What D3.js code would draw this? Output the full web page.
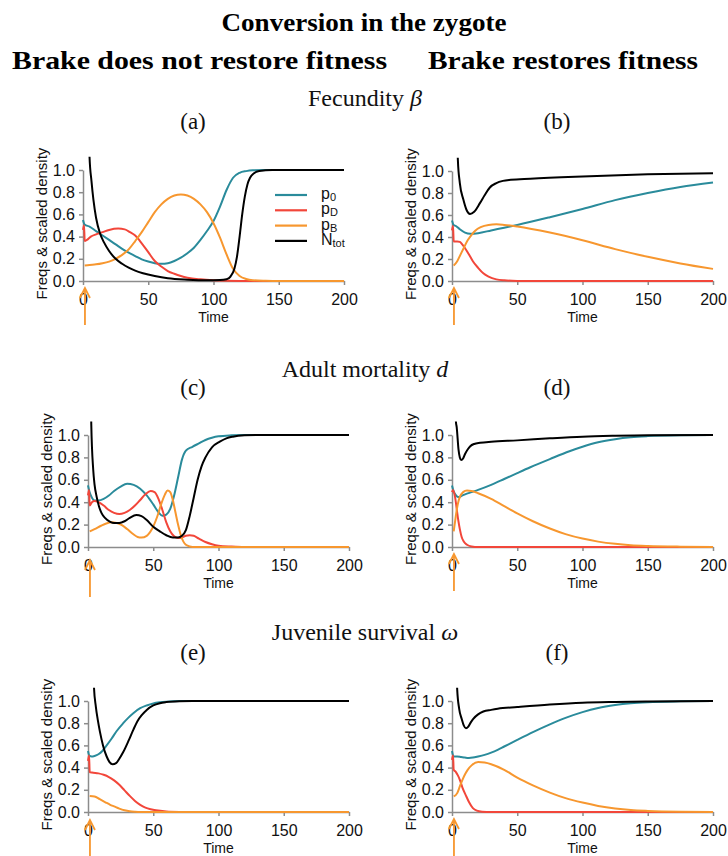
<!DOCTYPE html>
<html>
<head>
<meta charset="utf-8">
<script src="https://cdn.jsdelivr.net/npm/d3@7"></script>
<style>
  body { margin: 0; background: #fff; }
</style>
</head>
<body>
<svg id="fig" width="728" height="856"></svg>
<script>
// ---- values ----
const timeTicks = [0, 50, 100, 150, 200];
const freqTicks = [0, 0.2, 0.4, 0.6, 0.8, 1.0];
const seriesLabels = [['p', '0'], ['p', 'D'], ['p', 'B'], ['N', 'tot']];
const panelLetters = ['(a)', '(b)', '(c)', '(d)', '(e)', '(f)'];
const rowTitles = [['Fecundity ', 'β'], ['Adult mortality ', 'd'], ['Juvenile survival ', 'ω']];

// (a) fecundity, brake does not restore fitness
const aP0 = [[0,0.55],[1.2,0.51],[5,0.49],[10,0.45],[15,0.41],[20,0.37],[25,0.33],[30,0.29],[35,0.255],[40,0.225],[45,0.195],[50,0.175],[55,0.16],[60,0.155],[65,0.16],[70,0.18],[75,0.21],[80,0.25],[85,0.3],[90,0.37],[95,0.45],[100,0.54],[105,0.67],[110,0.82],[115,0.93],[120,0.975],[125,0.99],[130,0.997],[140,1],[200,1]];
const aPD = [[0,0.46],[0.8,0.5],[1.3,0.36],[3,0.37],[6,0.4],[10,0.42],[15,0.44],[20,0.46],[27,0.472],[32,0.465],[36,0.44],[40,0.41],[45,0.34],[50,0.26],[55,0.18],[60,0.13],[65,0.09],[70,0.065],[75,0.045],[80,0.03],[90,0.015],[100,0.007],[110,0.003],[120,0.001],[130,0],[200,0]];
const aPB = [[1.3,0.14],[5,0.145],[10,0.15],[15,0.16],[20,0.175],[25,0.2],[30,0.235],[35,0.285],[40,0.36],[45,0.44],[50,0.53],[55,0.62],[60,0.69],[65,0.74],[70,0.77],[75,0.78],[80,0.77],[85,0.74],[90,0.69],[95,0.62],[100,0.52],[105,0.39],[110,0.24],[115,0.11],[120,0.045],[125,0.018],[130,0.007],[140,0.002],[150,0],[200,0]];
const aN = [[3,2.2],[5,1.12],[6.5,0.9],[8,0.73],[10,0.57],[13,0.43],[16,0.35],[20,0.27],[25,0.2],[30,0.155],[35,0.12],[40,0.093],[46,0.07],[55,0.045],[65,0.025],[80,0.012],[95,0.006],[105,0.008],[110,0.015],[113,0.04],[116,0.11],[118,0.22],[120,0.4],[122,0.6],[124,0.76],[126,0.87],[128,0.93],[131,0.97],[135,0.99],[145,1],[200,1]];

// (b) fecundity, brake restores fitness
const bP0 = [[0,0.55],[1.2,0.51],[3,0.5],[6,0.47],[10,0.44],[14,0.43],[20,0.435],[30,0.46],[40,0.485],[50,0.51],[75,0.58],[100,0.655],[125,0.735],[150,0.8],[175,0.855],[200,0.895]];
const bPD = [[0,0.46],[0.8,0.5],[1.3,0.36],[4,0.36],[6,0.355],[8,0.33],[11,0.28],[14,0.22],[16,0.18],[20,0.12],[24,0.07],[28,0.04],[34,0.015],[40,0.006],[50,0.001],[60,0],[200,0]];
const bPB = [[1.3,0.14],[4,0.18],[6.5,0.24],[9,0.3],[12,0.37],[15,0.42],[18,0.46],[22,0.49],[28,0.51],[34,0.515],[40,0.51],[50,0.495],[75,0.44],[100,0.37],[125,0.29],[150,0.22],[175,0.16],[200,0.11]];
const bN = [[3,1.8],[4.5,1.1],[6,0.89],[8.7,0.74],[11,0.65],[13.8,0.61],[17,0.63],[21.5,0.71],[25,0.78],[29,0.85],[34,0.89],[39,0.91],[45,0.92],[60,0.93],[100,0.95],[150,0.97],[200,0.98]];

// (c) adult mortality, brake does not restore fitness
const cP0 = [[0,0.55],[1.2,0.49],[3,0.44],[5,0.415],[8,0.415],[12,0.43],[16,0.46],[20,0.5],[25,0.54],[30,0.565],[35,0.555],[40,0.52],[45,0.46],[50,0.38],[54,0.31],[57,0.28],[60,0.29],[63,0.34],[66,0.46],[69,0.62],[72,0.78],[75,0.86],[80,0.895],[85,0.925],[90,0.955],[95,0.975],[100,0.988],[110,0.997],[120,1],[200,1]];
const cPD = [[0,0.46],[0.8,0.51],[1.3,0.37],[3,0.4],[5,0.41],[8,0.4],[12,0.37],[16,0.33],[20,0.305],[24,0.295],[28,0.305],[32,0.33],[36,0.37],[40,0.42],[44,0.47],[48,0.5],[51,0.49],[54,0.43],[57,0.33],[60,0.22],[63,0.14],[66,0.095],[69,0.08],[72,0.085],[75,0.1],[78,0.105],[81,0.1],[85,0.075],[90,0.045],[95,0.025],[100,0.012],[110,0.004],[120,0],[200,0]];
const cPB = [[1.3,0.14],[5,0.16],[10,0.19],[14,0.21],[18,0.22],[22,0.215],[26,0.195],[30,0.16],[34,0.12],[38,0.09],[41,0.085],[45,0.1],[49,0.16],[53,0.27],[56,0.38],[59,0.47],[61,0.505],[63,0.49],[65,0.42],[67,0.31],[69,0.2],[71,0.11],[73,0.05],[75,0.02],[78,0.005],[82,0],[200,0]];
const cN = [[1,2.5],[2.5,1.1],[4,0.69],[5,0.56],[6.6,0.45],[8.5,0.36],[10.5,0.3],[13,0.26],[17,0.225],[20,0.215],[24,0.215],[28,0.23],[32,0.26],[37,0.285],[41,0.275],[45,0.24],[50,0.18],[55,0.14],[60,0.105],[65,0.085],[69,0.085],[72,0.1],[75,0.15],[78,0.28],[81,0.44],[84,0.6],[87,0.72],[90,0.8],[95,0.89],[101,0.94],[106,0.97],[111,0.985],[120,0.997],[130,1],[200,1]];

// (d) adult mortality, brake restores fitness
const dP0 = [[0,0.55],[1.2,0.5],[2.5,0.47],[4,0.45],[5.5,0.445],[7,0.455],[10,0.47],[15,0.49],[20,0.51],[30,0.555],[40,0.607],[50,0.66],[60,0.712],[75,0.785],[90,0.855],[100,0.895],[112,0.935],[125,0.963],[137,0.98],[150,0.99],[175,0.998],[200,1]];
const dPD = [[0,0.49],[0.8,0.51],[2.3,0.45],[3.5,0.35],[4.8,0.24],[6,0.16],[7.4,0.09],[9,0.05],[11.5,0.02],[15,0.005],[20,0],[200,0]];
const dPB = [[1.3,0.14],[2.5,0.24],[3.6,0.33],[5,0.41],[6.5,0.46],[8.5,0.49],[11.5,0.505],[15,0.5],[20,0.48],[30,0.43],[40,0.365],[50,0.3],[62,0.23],[75,0.165],[87,0.115],[100,0.075],[112,0.048],[125,0.028],[137,0.016],[150,0.009],[175,0.003],[200,0.001]];
const dN = [[1.5,2.2],[3,1.12],[3.6,1.07],[5,0.87],[6,0.8],[7,0.777],[8.5,0.79],[10,0.83],[12,0.87],[14,0.9],[17,0.92],[21.5,0.93],[30,0.94],[50,0.952],[75,0.97],[100,0.985],[125,0.993],[150,0.998],[200,1]];

// (e) juvenile survival, brake does not restore fitness
const eP0 = [[0,0.55],[1.2,0.505],[2.8,0.5],[5,0.505],[8,0.52],[11,0.55],[14.3,0.6],[18,0.66],[22,0.73],[27,0.8],[31,0.85],[34.7,0.89],[40,0.935],[45,0.96],[50,0.978],[55,0.988],[60,0.994],[70,0.999],[80,1],[200,1]];
const ePD = [[0,0.46],[0.8,0.51],[1.3,0.36],[3,0.355],[8,0.348],[12,0.335],[16,0.315],[20,0.285],[24,0.245],[28,0.195],[32,0.145],[36,0.1],[40,0.065],[44,0.04],[48,0.025],[52,0.015],[60,0.005],[70,0.001],[80,0],[200,0]];
const ePB = [[1.3,0.145],[5,0.14],[9,0.115],[13,0.09],[17,0.065],[20,0.05],[24,0.03],[28,0.015],[32,0.006],[36,0.002],[40,0],[200,0]];
const eN = [[3,2.0],[4.6,1.12],[6,0.95],[7.5,0.83],[9.2,0.72],[11.5,0.6],[14.3,0.5],[16.5,0.45],[18.9,0.43],[21.5,0.44],[24,0.48],[27,0.54],[31,0.64],[34.7,0.74],[38,0.82],[41,0.87],[45,0.92],[50,0.96],[55,0.98],[60,0.99],[70,0.998],[80,1],[200,1]];

// (f) juvenile survival, brake restores fitness
const fP0 = [[0,0.55],[1.2,0.5],[4,0.5],[7,0.495],[10,0.49],[13,0.487],[16,0.49],[20,0.5],[25,0.515],[30,0.535],[35,0.56],[40,0.59],[50,0.65],[62,0.72],[75,0.79],[87,0.848],[100,0.9],[112,0.937],[125,0.963],[137,0.979],[150,0.989],[175,0.997],[200,1]];
const fPD = [[0,0.47],[0.8,0.51],[1.3,0.38],[3,0.36],[4.5,0.33],[6,0.29],[8,0.22],[11,0.14],[13,0.09],[16,0.035],[19,0.012],[23,0.003],[30,0],[200,0]];
const fPB = [[1.3,0.14],[4,0.17],[6,0.23],[8,0.29],[10,0.34],[12,0.38],[15,0.42],[20,0.45],[25,0.445],[30,0.43],[40,0.38],[50,0.31],[62,0.24],[75,0.175],[87,0.125],[100,0.085],[112,0.055],[125,0.032],[137,0.018],[150,0.01],[175,0.003],[200,0.001]];
const fN = [[2.5,2.0],[4,1.1],[5.5,0.93],[7.4,0.84],[9,0.78],[10.7,0.755],[12.5,0.77],[14.5,0.81],[16.3,0.84],[20,0.88],[24,0.905],[30,0.92],[35,0.93],[50,0.945],[75,0.968],[100,0.985],[125,0.992],[150,0.996],[200,1]];

// ---- layout ----
const colors = ['#2a8b9b', '#f2463a', '#f7972f', '#000000'];
const sans = '"Liberation Sans", Arial, Helvetica, sans-serif';
const serif = '"Liberation Serif", "Times New Roman", serif';

const panels = [
  { series: [aP0, aPD, aPB, aN], left: 83, right: 344, bottom: 281, top: 170, arrowGap: 7, legend: true },
  { series: [bP0, bPD, bPB, bN], left: 452, right: 713, bottom: 281, top: 171, arrowGap: 7 },
  { series: [cP0, cPD, cPB, cN], left: 88, right: 349, bottom: 547, top: 435, arrowGap: 13 },
  { series: [dP0, dPD, dPB, dN], left: 452, right: 713, bottom: 547, top: 435, arrowGap: 7 },
  { series: [eP0, ePD, ePB, eN], left: 88, right: 349, bottom: 812, top: 701, arrowGap: 8 },
  { series: [fP0, fPD, fPB, fN], left: 452, right: 713, bottom: 812, top: 701, arrowGap: 7 }
];
const rowTitleY = [106, 377, 640];
const letterY = [129, 395, 660];
const letterX = [193, 557];

const svg = d3.select('#fig');
svg.append('rect').attr('width', 728).attr('height', 856).attr('fill', '#fff');

// headings
svg.append('text').attr('x', 364).attr('y', 31).attr('text-anchor', 'middle')
  .attr('font-family', serif).attr('font-weight', 'bold').attr('font-size', 26)
  .attr('textLength', 285).attr('lengthAdjust', 'spacingAndGlyphs')
  .text('Conversion in the zygote');
svg.append('text').attr('x', 12).attr('y', 69)
  .attr('font-family', serif).attr('font-weight', 'bold').attr('font-size', 26)
  .attr('textLength', 375).attr('lengthAdjust', 'spacingAndGlyphs')
  .text('Brake does not restore fitness');
svg.append('text').attr('x', 428).attr('y', 69)
  .attr('font-family', serif).attr('font-weight', 'bold').attr('font-size', 26)
  .attr('textLength', 270).attr('lengthAdjust', 'spacingAndGlyphs')
  .text('Brake restores fitness');

rowTitles.forEach((t, i) => {
  const txt = svg.append('text').attr('x', 365).attr('y', rowTitleY[i]).attr('text-anchor', 'middle')
    .attr('font-family', serif).attr('font-size', 24).attr('fill', '#111');
  txt.append('tspan').text(t[0]);
  txt.append('tspan').attr('font-style', 'italic').text(t[1]);
});

panels.forEach((p, i) => {
  svg.append('text').attr('x', letterX[i % 2]).attr('y', letterY[Math.floor(i / 2)])
    .attr('text-anchor', 'middle').attr('font-family', serif).attr('font-size', 23).attr('fill', '#111')
    .text(panelLetters[i]);
  drawPanel(p, i);
});

function drawPanel(p, i) {
  const x = d3.scaleLinear().domain([0, 200]).range([p.left, p.right]);
  const y = d3.scaleLinear().domain([0, 1]).range([p.bottom, p.top]);
  const g = svg.append('g');

  const clipId = 'clip' + i;
  svg.append('clipPath').attr('id', clipId).append('rect')
    .attr('x', p.left - 2).attr('y', y(1.12))
    .attr('width', p.right - p.left + 4).attr('height', y(0) - y(1.12) + 4);

  g.append('g').attr('transform', `translate(${p.left},0)`)
    .call(d3.axisLeft(y).tickValues(freqTicks).tickFormat(d3.format('.1f'))
      .tickSize(4).tickPadding(4).tickSizeOuter(0));
  g.append('g').attr('transform', `translate(0,${p.bottom})`)
    .call(d3.axisBottom(x).tickValues(timeTicks).tickFormat(d3.format('d'))
      .tickSize(4).tickPadding(9).tickSizeOuter(0));
  g.selectAll('.domain, .tick line').attr('stroke', '#8c8c8c').attr('stroke-width', 1.5);
  g.selectAll('.tick text').attr('font-family', sans).attr('font-size', 16).attr('fill', '#111');

  // axis titles
  g.append('text').attr('x', (p.left + p.right) / 2).attr('y', p.bottom + 41)
    .attr('text-anchor', 'middle').attr('font-family', sans).attr('font-size', 14).attr('fill', '#111')
    .text('Time');
  g.append('text')
    .attr('transform', `translate(${p.left - 36},${y(0.5) - 2}) rotate(-90)`)
    .attr('text-anchor', 'middle').attr('font-family', sans).attr('font-size', 15).attr('fill', '#111')
    .text('Freqs & scaled density');

  // curves
  const line = d3.line().x(d => x(d[0])).y(d => y(d[1])).curve(d3.curveMonotoneX);
  const lines = g.append('g').attr('clip-path', `url(#${clipId})`);
  p.series.forEach((s, k) => {
    lines.append('path').attr('d', line(s)).attr('fill', 'none')
      .attr('stroke', colors[k]).attr('stroke-width', 2).attr('stroke-linejoin', 'round');
  });

  // release arrow
  const ax = x(1.5), tip = p.bottom + p.arrowGap;
  g.append('path')
    .attr('d', `M${ax},${tip + 37}L${ax},${tip}M${ax - 5},${tip + 10}L${ax},${tip}L${ax + 5},${tip + 10}`)
    .attr('fill', 'none').attr('stroke', colors[2]).attr('stroke-width', 1.8);

  // legend
  if (p.legend) {
    const lg = g.append('g').attr('transform', `translate(${p.left + 192},${p.bottom - 86})`);
    seriesLabels.forEach((lab, k) => {
      const yy = k * 15.3;
      lg.append('line').attr('x1', 0).attr('x2', 32).attr('y1', yy).attr('y2', yy)
        .attr('stroke', colors[k]).attr('stroke-width', 2.2);
      const t = lg.append('text').attr('x', 46).attr('y', yy + 4)
        .attr('font-family', sans).attr('font-size', 16).attr('fill', '#111');
      t.append('tspan').text(lab[0]);
      t.append('tspan').attr('font-size', 11).attr('dy', 2).text(lab[1]);
    });
  }
}
</script>
</body>
</html>
